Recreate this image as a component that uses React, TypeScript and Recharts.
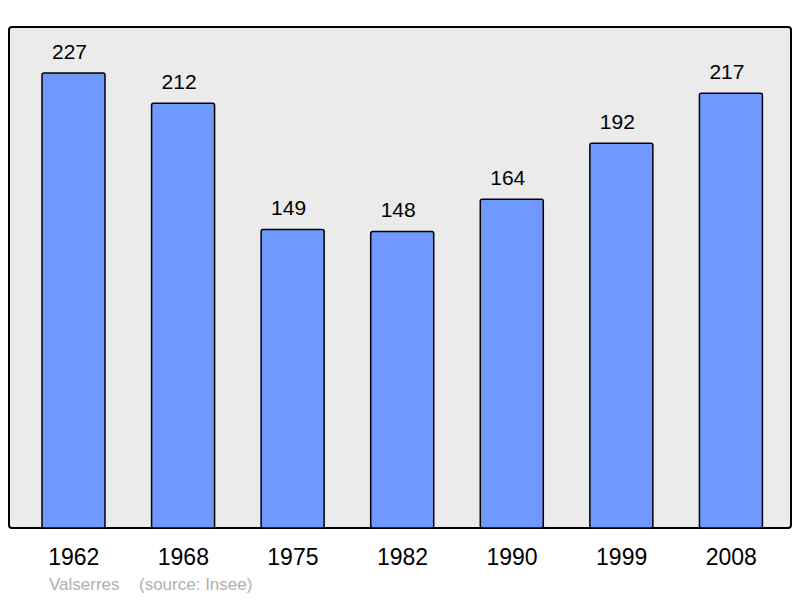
import { Bar, BarChart, CartesianGrid, Customized, LabelList, XAxis, YAxis, usePlotArea } from "recharts";

const years = ["1962", "1968", "1975", "1982", "1990", "1999", "2008"];
const population = [227, 212, 149, 148, 164, 192, 217];
const yDomain = [0, 250];

const data = years.map((year, i) => ({ year, population: population[i] }));

const FONT = '"Liberation Sans", Arial, sans-serif';

function YearTick(props: any) {
  const { x, y, payload } = props;
  return (
    <text x={x} y={y + 29} textAnchor="middle" fontSize={23} fill="#000" fontFamily={FONT}>
      {payload.value}
    </text>
  );
}

function ValueLabel(props: any) {
  const { x, y, width, value } = props;
  return (
    <text x={x + width / 2 - 4} y={y - 14.5} textAnchor="middle" fontSize={21} fill="#000" fontFamily={FONT}>
      {value}
    </text>
  );
}

// frame round the plot area, drawn on top of the bars
function Frame() {
  const area = usePlotArea();
  if (!area) return null;
  return (
    <rect
      x={area.x}
      y={area.y}
      width={area.width}
      height={area.height}
      rx={3}
      fill="none"
      stroke="#000"
      strokeWidth={2}
    />
  );
}

function Footer() {
  return (
    <g fontSize={17} fill="#b0b0b0" fontFamily={FONT}>
      <text x={49} y={590}>Valserres</text>
      <text x={139} y={590}>(source: Insee)</text>
    </g>
  );
}

export default function App() {
  return (
    <div style={{ position: "absolute", left: 0, top: 0, width: 800, height: 598, background: "#fff" }}>
      <BarChart
        width={800}
        height={598}
        data={data}
        margin={{ top: 27, right: 9, bottom: 40, left: 9 }}
      >
        <CartesianGrid fill="#ebebeb" horizontal={false} vertical={false} />
        <XAxis
          dataKey="year"
          height={30}
          axisLine={false}
          tickLine={false}
          tick={<YearTick />}
          padding={{ left: 10, right: 5 }}
        />
        <YAxis hide domain={yDomain} />
        <Bar
          dataKey="population"
          barSize={63}
          fill="#7099ff"
          stroke="#000"
          strokeWidth={1.5}
          radius={2}
          isAnimationActive={false}
        >
          <LabelList dataKey="population" content={<ValueLabel />} />
        </Bar>
        <Customized component={Frame} />
        <Customized component={Footer} />
      </BarChart>
    </div>
  );
}
